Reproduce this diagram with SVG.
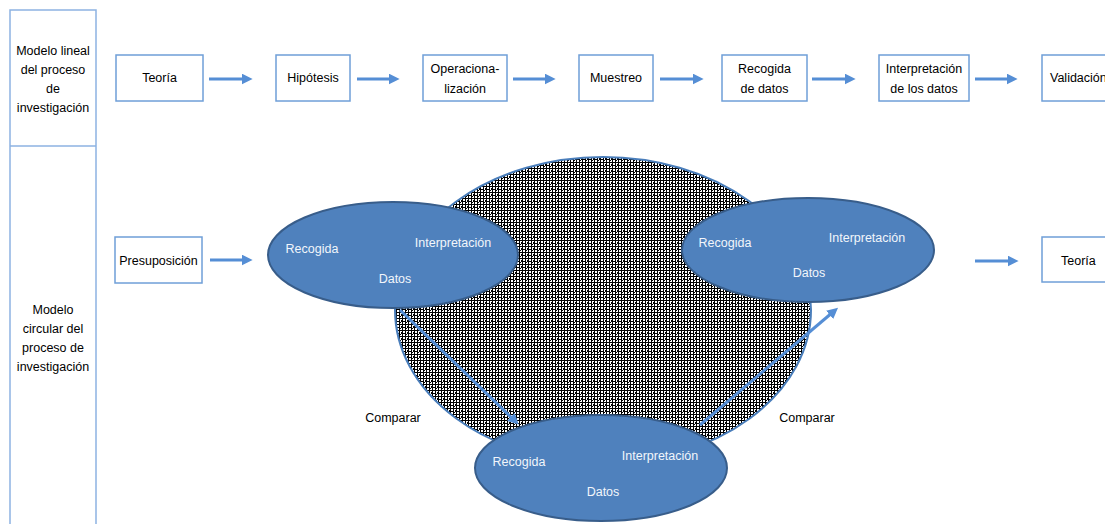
<svg xmlns="http://www.w3.org/2000/svg" width="1105" height="524" viewBox="0 0 1105 524">
<style>
.lbl{font-family:"Liberation Sans",Arial,sans-serif;font-size:12.5px;fill:#000;text-anchor:middle}
.wl{font-family:"Liberation Sans",Arial,sans-serif;font-size:12.5px;fill:#f2f6fb;text-anchor:middle}
.box{fill:#fff;stroke:#6f9fd8;stroke-width:1.5}
.col{fill:none;stroke:#8db3e2;stroke-width:1.5}
.arr{stroke:#558ed5;stroke-width:3;fill:none;marker-end:url(#ah)}
.ell{fill:#4f81bd;stroke:#385d8a;stroke-width:2}
</style>
<defs>
<marker id="ah" markerUnits="userSpaceOnUse" viewBox="0 0 10 10" markerWidth="11" markerHeight="11" refX="4" refY="5" orient="auto">
<path d="M0,0 L10,5 L0,10 z" fill="#558ed5"/>
</marker>
<pattern id="hatch" patternUnits="userSpaceOnUse" width="6" height="6">
<rect width="6" height="6" fill="#fff"/>
<rect x="0" y="0" width="1" height="6" fill="#000"/>
<rect x="3" y="0" width="1" height="6" fill="#000"/>
<rect x="0" y="0" width="6" height="1" fill="#000"/>
<rect x="1" y="3" width="2" height="1" fill="#000"/>
<rect x="5" y="2" width="1" height="2" fill="#000"/>
<rect x="4" y="4" width="1" height="1" fill="#000"/>
</pattern>
</defs>
<rect width="1105" height="524" fill="#fff"/>
<g id="col-left">
<path class="col" d="M10,524 V10 H96 V524 M10,146 H96"/>
<text class="lbl" x="53" y="55">Modelo lineal</text>
<text class="lbl" x="53" y="74">del proceso</text>
<text class="lbl" x="53" y="93">de</text>
<text class="lbl" x="53" y="112">investigación</text>
<text class="lbl" x="53" y="314">Modelo</text>
<text class="lbl" x="53" y="333">circular del</text>
<text class="lbl" x="53" y="352">proceso de</text>
<text class="lbl" x="53" y="371">investigación</text>
</g>
<g id="n-teoria1"><rect class="box" x="116" y="55" width="87" height="46"/><text class="lbl" x="159.5" y="82">Teoría</text></g>
<g id="n-hipotesis"><rect class="box" x="276" y="55" width="74" height="46"/><text class="lbl" x="313" y="82">Hipótesis</text></g>
<g id="n-operacional"><rect class="box" x="423" y="55" width="84" height="46"/><text class="lbl" x="465" y="73">Operaciona-</text><text class="lbl" x="465" y="93">lización</text></g>
<g id="n-muestreo"><rect class="box" x="579" y="55" width="74" height="46"/><text class="lbl" x="616" y="82">Muestreo</text></g>
<g id="n-recogida"><rect class="box" x="722" y="55" width="85" height="46"/><text class="lbl" x="764.5" y="73">Recogida</text><text class="lbl" x="764.5" y="93">de datos</text></g>
<g id="n-interp"><rect class="box" x="879" y="55" width="90" height="46"/><text class="lbl" x="924" y="73">Interpretación</text><text class="lbl" x="924" y="93">de los datos</text></g>
<g id="n-validacion"><rect class="box" x="1042" y="55" width="90" height="46"/><text class="lbl" x="1050" y="82" style="text-anchor:start">Validación</text></g>
<g id="n-presup"><rect class="box" x="115" y="237" width="87" height="46"/><text class="lbl" x="158.5" y="265">Presuposición</text></g>
<g id="n-teoria2"><rect class="box" x="1042" y="237" width="90" height="45"/><text class="lbl" x="1061" y="265" style="text-anchor:start">Teoría</text></g>
<g id="n-circle"><ellipse cx="603" cy="310" rx="208" ry="153" fill="url(#hatch)" stroke="#4a7ebb" stroke-width="2"/></g>
<g id="n-ell-left"><ellipse class="ell" cx="393" cy="255" rx="125" ry="53"/>
<text class="wl" x="312" y="253">Recogida</text><text class="wl" x="453" y="247">Interpretación</text><text class="wl" x="395" y="283">Datos</text></g>
<g id="n-ell-right"><ellipse class="ell" cx="808" cy="250" rx="126" ry="52"/>
<text class="wl" x="725" y="247">Recogida</text><text class="wl" x="867" y="242">Interpretación</text><text class="wl" x="809" y="277">Datos</text></g>
<g id="n-ell-bottom"><ellipse class="ell" cx="601" cy="468" rx="126" ry="53"/>
<text class="wl" x="519" y="466">Recogida</text><text class="wl" x="660" y="460">Interpretación</text><text class="wl" x="603" y="496">Datos</text></g>
<g id="labels">
<text class="lbl" x="393" y="422">Comparar</text>
<text class="lbl" x="807" y="422">Comparar</text>
</g>
<g id="connectors">
<line class="arr" x1="209" y1="79" x2="246" y2="79"/>
<line class="arr" x1="357" y1="79" x2="393" y2="79"/>
<line class="arr" x1="513" y1="79" x2="549" y2="79"/>
<line class="arr" x1="660" y1="79" x2="697" y2="79"/>
<line class="arr" x1="812" y1="79" x2="849" y2="79"/>
<line class="arr" x1="975" y1="79" x2="1011" y2="79"/>
<line class="arr" x1="210" y1="260" x2="246" y2="260"/>
<line class="arr" x1="975" y1="261" x2="1012" y2="261"/>
<line class="arr" x1="400" y1="310" x2="514" y2="420"/>
<line class="arr" x1="700" y1="425" x2="833" y2="312"/>
</g>
</svg>
